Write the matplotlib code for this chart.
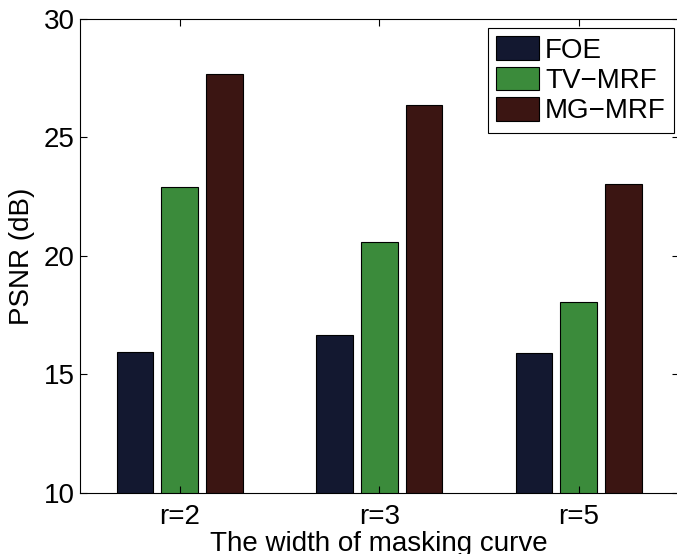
import matplotlib
matplotlib.use("Agg")
import matplotlib.pyplot as plt
import numpy as np

categories = ["r=2", "r=3", "r=5"]
series_names = ["FOE", "TV\u2212MRF", "MG\u2212MRF"]
foe = [15.94, 16.65, 15.90]
tv_mrf = [22.91, 20.60, 18.05]
mg_mrf = [27.68, 26.36, 23.05]
yticks = [10, 15, 20, 25, 30]
colors = ["#131830", "#3b8b3b", "#3b1512"]

plt.rcParams['font.family'] = ['Liberation Sans', 'DejaVu Sans']

fig = plt.figure(figsize=(6.77, 5.54), dpi=100)
ax = fig.add_axes([80 / 677, 61 / 554, 598.5 / 677, 474 / 554])

x = np.arange(1, len(categories) + 1)
offset = 0.225
width = 0.183
for i, (vals, name, c) in enumerate(zip([foe, tv_mrf, mg_mrf], series_names, colors)):
    ax.bar(x + (i - 1) * offset, vals, width=width, color=c, edgecolor="black",
           linewidth=0.8, label=name)

ax.set_xlim(0.5, 3.5)
ax.set_ylim(10, 30)
ax.set_xticks(x)
ax.set_xticklabels(categories)
ax.set_yticks(yticks)
ax.tick_params(direction="in", top=True, right=True, length=5, width=0.8,
               labelsize=20)
ax.tick_params(axis="y", pad=4)
ax.tick_params(axis="x", pad=8)
for s in ax.spines.values():
    s.set_linewidth(0.8)
ax.set_xlabel("The width of masking curve", fontsize=20, labelpad=0.5)
ax.set_ylabel("PSNR (dB)", fontsize=20, labelpad=6)

leg = ax.legend(loc="upper right", bbox_to_anchor=(0.9925, 0.981),
                borderaxespad=0, fontsize=20, frameon=True, fancybox=False,
                edgecolor="black", framealpha=1, handlelength=1.55,
                handleheight=0.94, handletextpad=0.2, labelspacing=0.1,
                borderpad=0.3)
leg.get_frame().set_linewidth(0.8)

fig.savefig("out.png", dpi=100)
